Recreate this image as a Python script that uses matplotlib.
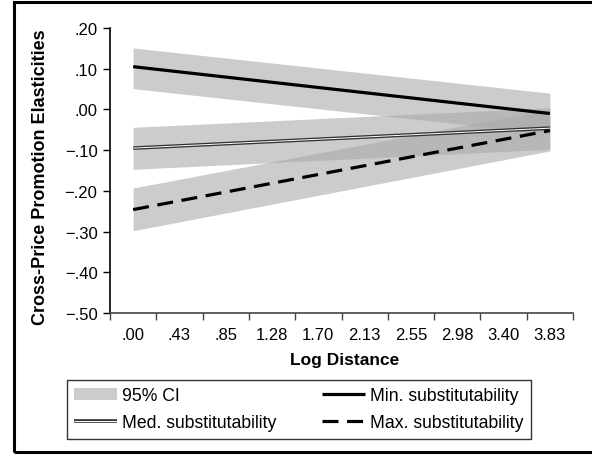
import matplotlib
matplotlib.use('Agg')
import matplotlib.pyplot as plt
import matplotlib.patheffects as pe
from matplotlib.patches import Rectangle
import numpy as np

plt.rcParams['font.family'] = ['Liberation Sans', 'DejaVu Sans']

# categories on the x axis (log distance)
x_labels = ['.00', '.43', '.85', '1.28', '1.70', '2.13', '2.55', '2.98', '3.40', '3.83']

# estimates at the first and last category (lines are straight)
min_sub = [0.105, -0.010]
min_upper = [0.151, 0.040]
min_lower = [0.051, -0.060]

med_sub = [-0.095, -0.046]
med_upper = [-0.044, 0.004]
med_lower = [-0.147, -0.098]

max_sub = [-0.246, -0.052]
max_upper = [-0.193, 0.000]
max_lower = [-0.298, -0.102]

y_ticks = [0.20, 0.10, 0.00, -0.10, -0.20, -0.30, -0.40, -0.50]


def fmt(v):
    s = f"{abs(v):.2f}".lstrip('0')
    return ('\u2212' if v < -1e-9 else '') + s


W, H = 592, 456
fig = plt.figure(figsize=(W / 100, H / 100), dpi=100, facecolor='white')
ax = fig.add_axes([110 / W, 1 - 314 / H, (573 - 110) / W, (314 - 29) / H])

xpos = np.arange(len(x_labels))
ends = [xpos[0], xpos[-1]]

band_kw = dict(color='#aaaaaa', alpha=0.6, linewidth=0)
ax.fill_between(ends, min_lower, min_upper, label='95% CI', **band_kw)
ax.fill_between(ends, med_lower, med_upper, **band_kw)
ax.fill_between(ends, max_lower, max_upper, **band_kw)

ax.plot(ends, min_sub, color='black', linewidth=2.3, solid_capstyle='butt',
        label='Min. substitutability', zorder=3)
ax.plot(ends, med_sub, color='white', linewidth=0.7, solid_capstyle='butt',
        path_effects=[pe.Stroke(linewidth=2.6, foreground='#333333'), pe.Normal()],
        label='Med. substitutability', zorder=3)
ax.plot(ends, max_sub, color='black', linewidth=2.3, dashes=(5, 2.7),
        label='Max. substitutability', zorder=3)

ax.set_xlim(-0.5, len(x_labels) - 0.5)
ax.set_ylim(-0.5, 0.2)

ax.set_xticks(np.arange(len(x_labels) + 1) - 0.5)
ax.set_xticklabels([])
ax.set_xticks(xpos, minor=True)
ax.set_xticklabels(x_labels, minor=True, fontsize=12)
ax.tick_params(axis='x', which='major', direction='out', length=5, width=1, color='#444444')
ax.tick_params(axis='x', which='minor', length=0, pad=10)

ax.set_yticks(y_ticks)
ax.set_yticklabels([fmt(v) for v in y_ticks], fontsize=12)
ax.tick_params(axis='y', direction='out', length=5, width=1, pad=4)

for s in ['top', 'right']:
    ax.spines[s].set_visible(False)
ax.spines['left'].set_linewidth(1.2)
ax.spines['bottom'].set_linewidth(1.2)
ax.spines['bottom'].set_color('#444444')

fig.text(345 / W, 1 - 361 / H, 'Log Distance', fontsize=12.5, fontweight='bold',
         ha='center', va='center')
fig.text(41 / W, 1 - 177 / H, 'Cross-Price Promotion Elasticities', fontsize=13,
         fontweight='bold', rotation=90, ha='center', va='center')

handles, labels = ax.get_legend_handles_labels()
order = ['95% CI', 'Med. substitutability', 'Min. substitutability', 'Max. substitutability']
hmap = dict(zip(labels, handles))
leg = fig.legend([hmap[k] for k in order], order, ncol=2,
                 loc='upper left', bbox_to_anchor=(67 / W, 1 - 381 / H),
                 fontsize=12.7, frameon=True, fancybox=False, borderaxespad=0,
                 handlelength=2.4, handletextpad=0.3, labelspacing=0.55,
                 borderpad=0.42, columnspacing=2.6)
leg.get_frame().set_edgecolor('black')
leg.get_frame().set_linewidth(1.0)

# outer frame around the figure
fig.patches.append(Rectangle((14 / W, 3 / H), 1.2, 1 - 6 / H, transform=fig.transFigure,
                             fill=False, edgecolor='black', linewidth=2.2))

fig.savefig('out.png', dpi=100, facecolor='white')
